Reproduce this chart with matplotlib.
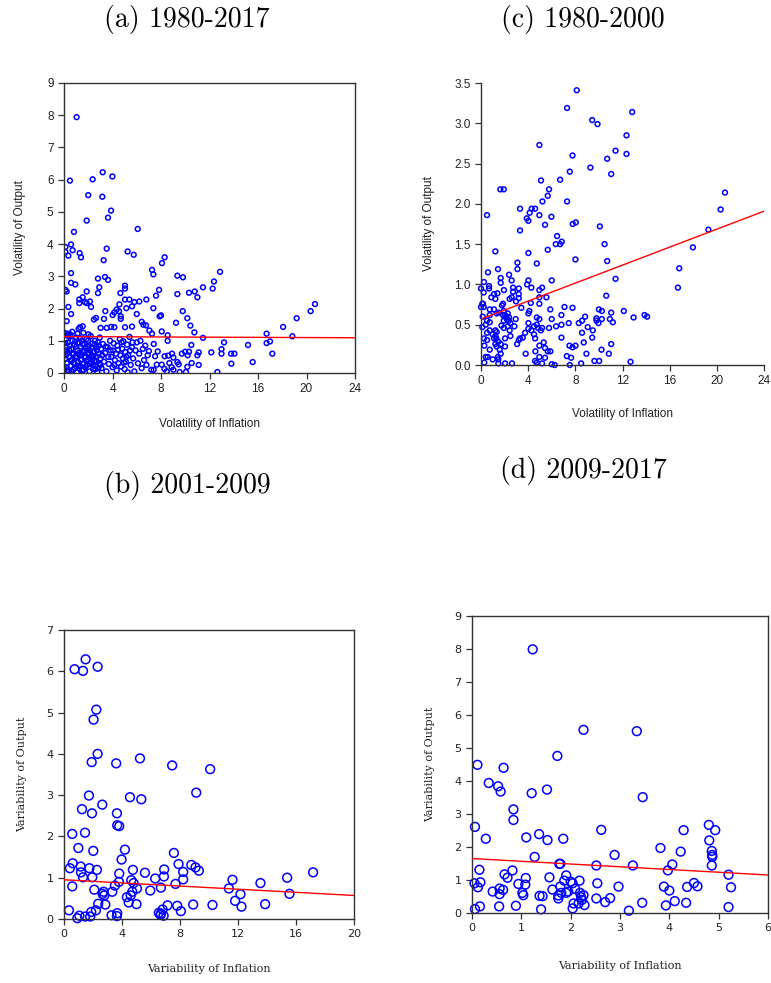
import numpy as np
import matplotlib
matplotlib.use("Agg")
import matplotlib.pyplot as plt

# ---------------- Panel (a) 1980-2017 ----------------
a_x_sparse = [1.04, 0.49, 2.36, 3.19, 3.99, 2.0, 3.16, 3.88, 3.63, 1.87, 6.08, 0.82, 0.11, 0.11, 0.58,
              0.71, 0.36, 1.29, 1.40, 3.52, 3.27, 5.25, 5.75, 8.30, 8.08, 7.26, 7.37, 9.35, 9.81, 12.87,
              12.37, 12.26, 0.58, 0.58, 0.93, 3.38, 3.63, 2.80, 2.91, 2.80, 5.03, 5.03, 4.65, 7.84, 7.59,
              9.35, 10.31, 10.78, 11.46, 11.0, 0.11, 0.22, 1.87, 1.54, 1.26, 1.26, 1.73, 2.14, 2.23, 0.36,
              1.87, 5.03, 5.39, 5.80, 5.61, 6.21, 6.79, 4.57, 5.14, 7.37, 9.79, 3.41, 4.34, 4.15, 4.01,
              4.54, 4.68, 4.68, 3.30, 2.64, 2.47, 6.00, 7.89, 8.0, 10.17, 9.24, 19.19, 20.34, 20.70, 0.22,
              0.58, 1.54, 1.21, 1.32, 5.61, 6.41, 6.54, 6.76, 3.52, 4.15, 3.88, 3.02, 5.03, 7.04, 7.26,
              8.06, 10.42, 10.75, 11.46, 18.07, 18.83, 16.71, 16.99, 16.71, 17.18, 15.18, 15.56, 13.2,
              12.99, 12.99, 12.15, 13.78, 14.05, 13.80, 12.65, 11.11, 11.0, 11.11, 10.50, 9.99, 10.31,
              9.72, 10.2, 10.53, 10.17, 10.06, 9.54, 9.35, 9.46, 8.91, 9.02, 8.60, 8.30, 8.55, 8.55, 7.73,
              7.51, 7.65, 7.4, 8.06, 8.28, 8.47, 8.69, 8.88, 9.02]
a_y_sparse = [7.94, 5.97, 6.01, 6.23, 6.10, 5.52, 5.47, 5.04, 4.82, 4.73, 4.47, 4.38, 3.91, 3.76, 3.99,
              3.81, 3.64, 3.72, 3.59, 3.86, 3.50, 3.77, 3.67, 3.59, 3.41, 3.20, 3.06, 3.02, 2.97, 3.14,
              2.84, 2.62, 3.10, 2.80, 2.75, 2.98, 2.89, 2.93, 2.66, 2.48, 2.71, 2.62, 2.48, 2.58, 2.40,
              2.45, 2.49, 2.53, 2.66, 2.35, 2.58, 2.53, 2.53, 2.35, 2.28, 2.17, 2.20, 2.22, 2.05, 2.05,
              2.17, 2.28, 2.28, 2.20, 2.07, 2.22, 2.28, 2.13, 2.01, 2.01, 1.92, 1.92, 1.97, 1.88, 1.80,
              1.92, 1.76, 1.68, 1.68, 1.71, 1.66, 1.83, 1.76, 1.79, 1.70, 1.56, 1.70, 1.92, 2.14, 1.61,
              1.83, 1.45, 1.37, 1.42, 1.44, 1.59, 1.50, 1.48, 1.40, 1.42, 1.43, 1.40, 1.42, 1.32, 1.22,
              1.29, 1.47, 1.26, 1.09, 1.43, 1.14, 1.22, 0.98, 0.93, 0.60, 0.87, 0.34, 0.95,
              0.74, 0.60, 0.64, 0.60, 0.60, 0.29, 0.03, 0.64, 0.55, 0.25, 0.87, 0.66, 0.66,
              0.60, 0.55, 0.31, 0.19, 0.03, 0.03, 0.34, 0.27, 0.60, 0.48, 0.54, 0.52, 1.0, 1.17, 0.67,
              0.52, 0.26, 0.10, 0.26, 0.13, 0.05, 0.31, 0.18, 0.10]
a_x_dense = [0.05, 0.1, 0.15, 0.2, 0.25, 0.3, 0.35, 0.4, 0.45, 0.5, 0.55, 0.6, 0.65, 0.7, 0.75, 0.8, 0.85,
             0.9, 0.95, 1.0, 1.05, 1.1, 1.15, 1.2, 1.25, 1.3, 1.35, 1.4, 1.45, 1.5, 1.55, 1.6, 1.65, 1.7,
             1.75, 1.8, 1.85, 1.9, 1.95, 2.0, 2.05, 2.1, 2.15, 2.2, 2.25, 2.3, 2.35, 2.4, 2.45, 2.5, 2.55,
             2.6, 2.65, 2.7, 2.75, 2.8, 2.85, 2.9, 2.95, 3.0, 3.05, 3.1, 3.2, 3.3, 3.4, 3.5, 3.6, 3.7, 3.8,
             3.9, 4.0, 4.05, 4.1, 4.2, 4.3, 4.35, 4.4, 4.5, 4.6, 4.65, 4.7, 4.8, 4.85, 4.9, 5.0, 5.05, 5.1,
             5.2, 5.25, 5.3, 5.4, 5.5, 5.6, 5.7, 5.8, 5.9, 6.0, 6.1, 6.2, 6.3, 6.4, 6.5, 6.6, 6.7, 6.8,
             6.9, 7.0, 7.2, 7.4, 0.12, 0.22, 0.33, 0.48, 0.62, 0.78, 0.92, 1.08, 1.22, 1.38, 1.52, 1.68,
             1.82, 1.98, 2.12, 2.28, 2.42, 2.58, 2.72, 2.88, 3.02, 3.15, 3.45, 3.65, 3.85, 4.15, 4.45, 4.75,
             4.95, 5.15, 5.45, 5.65, 0.08, 0.18, 0.28, 0.42, 0.58, 0.72, 0.88, 1.02, 1.18, 1.32, 1.48, 1.62,
             1.78, 1.92, 2.08, 2.22, 2.38, 2.52, 2.68, 2.82, 0.02, 0.04, 0.3, 0.52, 0.68, 1.12, 1.6, 2.02]
a_y_dense = [0.12, 0.45, 0.8, 1.05, 0.3, 0.62, 0.95, 0.05, 0.5, 1.2, 0.22, 0.75, 0.4, 1.0, 0.1, 0.6, 0.88,
             0.28, 0.52, 1.1, 0.02, 0.7, 0.35, 0.95, 0.15, 0.55, 0.82, 0.4, 1.0, 0.08, 0.65, 0.3, 0.9, 0.48,
             0.18, 0.78, 1.05, 0.25, 0.6, 0.42, 0.85, 0.05, 0.7, 1.15, 0.32, 0.55, 0.92, 0.12, 0.66, 0.38,
             1.0, 0.22, 0.8, 0.5, 0.02, 0.95, 0.6, 0.3, 1.1, 0.45, 0.75, 0.15, 0.9, 0.35, 0.62, 0.05, 0.8,
             0.28, 1.0, 0.5, 0.18, 0.7, 0.92, 0.4, 0.6, 0.08, 0.85, 0.3, 1.05, 0.55, 0.2, 0.75, 0.45, 0.98,
             0.12, 0.65, 0.35, 0.88, 0.02, 0.55, 1.12, 0.25, 0.8, 0.45, 0.05, 0.7, 0.95, 0.3, 0.6, 1.0,
             0.15, 0.75, 0.4, 0.85, 0.25, 0.55, 0.68, 0.1, 0.9, 0.7, 0.18, 1.15, 0.85, 0.05, 0.32, 0.98,
             0.48, 0.62, 0.2, 0.9, 0.68, 0.38, 1.0, 0.28, 0.78, 0.48, 0.12, 0.7, 0.85, 0.25, 0.55, 0.82,
             0.5, 0.7, 0.25, 0.72, 0.95, 0.32, 0.5, 0.7, 0.95, 0.92, 0.55, 0.08, 0.72, 0.38, 0.58, 0.15,
             0.82, 0.22, 1.08, 0.58, 0.1, 0.5, 0.82, 0.62, 0.5, 0.25, 0.88, 0.35, 0.15, 1.25, 1.18, 1.22,
             1.15, 1.28, 1.22, 1.25, 1.2]
a_x = a_x_sparse + a_x_dense
a_y = a_y_sparse + a_y_dense
a_fit = (1.13, -0.0015)  # intercept, slope

# ---------------- Panel (c) 1980-2000 ----------------
c_x = [8.12, 7.30, 12.82, 9.43, 9.88, 12.34, 12.34, 11.41, 10.70, 11.04, 9.28, 7.76, 7.53, 6.71, 4.95,
       5.09, 5.77, 5.66, 5.21, 7.30, 3.31, 4.30, 4.59, 4.13, 3.88, 4.02, 4.95, 5.97, 5.43, 7.78, 8.04,
       10.08, 20.32, 20.69, 19.28, 17.97, 16.81, 16.70, 3.31, 6.45, 6.34, 6.71, 6.85, 5.66, 10.48, 10.70,
       8.01, 4.02, 4.73, 3.09, 3.09, 1.22, 0.51, 1.64, 1.93, 1.44, 0.59, 11.41, 10.62, 6.0, 4.02, 2.60,
       2.38, 0.25, 1.67, 1.67, 0.68, 0.68, 1.95, 2.72, 2.72, 3.20, 3.91, 4.27, 5.18, 4.95, 5.55, 4.95,
       4.95, 3.20, 3.20, 2.43, 2.60, 2.97, 3.42, 4.22, 4.10, 0.0, 0.23, 0.11, 0.0, 0.17, 0.23, 0.88, 1.10,
       1.39, 1.22, 1.78, 1.87, 0.74, 1.10, 0.74, 1.33, 1.50, 1.93, 2.04, 1.87, 2.27, 2.15, 2.38, 2.18,
       2.35, 2.49, 2.27, 1.93, 1.93, 1.73, 0.14, 0.51, 0.74, 0.40, 0.11, 0.74, 0.51, 0.99, 1.22, 1.33,
       1.22, 1.30, 1.10, 1.47, 1.22, 1.33, 2.04, 2.49, 2.04, 1.67, 1.59, 1.67, 1.44, 1.47, 0.74, 0.99,
       0.57, 0.40, 0.28, 0.28, 0.25, 0.51, 2.04, 1.47, 2.63, 2.94, 2.83, 2.43, 4.02, 4.02, 4.02, 4.27,
       4.50, 4.50, 4.73, 4.95, 4.84, 5.07, 5.18, 4.73, 4.59, 3.74, 3.54, 3.31, 3.20, 3.06, 3.79, 4.61,
       4.95, 5.32, 5.43, 5.43, 4.95, 4.59, 4.73, 5.18, 5.66, 5.88, 6.0, 6.25, 6.37, 5.77, 5.88, 6.0,
       6.82, 6.82, 7.08, 7.44, 7.76, 6.82, 7.50, 7.76, 8.01, 7.28, 7.64, 7.53, 8.49, 8.29, 8.57, 8.83,
       9.05, 9.48, 8.57, 9.43, 8.71, 8.94, 9.79, 9.79, 9.96, 10.0, 10.25, 10.25, 10.93, 11.04, 11.18,
       12.11, 12.94, 13.87, 14.09, 9.62, 10.02, 10.84, 10.22, 11.04, 12.68]
c_y = [3.41, 3.19, 3.14, 3.04, 2.99, 2.85, 2.62, 2.66, 2.56, 2.37, 2.45, 2.60, 2.40, 2.30, 2.73, 2.29,
       2.18, 2.10, 2.03, 2.03, 1.94, 1.94, 1.94, 1.89, 1.82, 1.79, 1.86, 1.84, 1.74, 1.75, 1.77, 1.72,
       1.93, 2.14, 1.68, 1.46, 1.20, 0.96, 1.67, 1.60, 1.50, 1.50, 1.53, 1.43, 1.50, 1.29, 1.31, 1.39,
       1.26, 1.27, 1.19, 1.41, 1.86, 2.18, 2.18, 1.19, 1.15, 1.07, 0.86, 1.05, 1.05, 1.05, 1.12, 1.03,
       1.08, 1.02, 0.98, 0.95, 0.93, 0.96, 0.91, 0.95, 1.0, 0.96, 0.96, 0.93, 0.84, 0.84, 0.76, 0.88,
       0.83, 0.82, 0.84, 0.79, 0.71, 0.77, 0.67, 0.95, 0.90, 0.76, 0.72, 0.76, 0.72, 0.84, 0.88, 0.89,
       0.82, 0.74, 0.76, 0.69, 0.69, 0.62, 0.64, 0.65, 0.67, 0.62, 0.62, 0.64, 0.60, 0.59, 0.57, 0.55,
       0.52, 0.48, 0.55, 0.46, 0.49, 0.60, 0.55, 0.53, 0.50, 0.47, 0.43, 0.40, 0.38, 0.43, 0.41, 0.36,
       0.33, 0.33, 0.29, 0.26, 0.23, 0.33, 0.36, 0.23, 0.26, 0.19, 0.14, 0.10, 0.07, 0.19, 0.07, 0.10,
       0.10, 0.03, 0.24, 0.33, 0.31, 0.02, 0.02, 0.02, 0.57, 0.48, 0.43, 0.64, 0.52, 0.45, 0.43, 0.38,
       0.48, 0.59, 0.57, 0.46, 0.43, 0.46, 0.50, 0.33, 0.40, 0.34, 0.33, 0.31, 0.26, 0.14, 0.17, 0.24,
       0.28, 0.21, 0.09, 0.10, 0.05, 0.03, 0.02, 0.17, 0.17, 0.01, 0.0, 0.48, 0.46, 0.69, 0.57, 0.50,
       0.62, 0.72, 0.52, 0.71, 0.34, 0.24, 0.22, 0.24, 0.11, 0.09, 0.0, 0.02, 0.52, 0.55, 0.60, 0.47,
       0.43, 0.40, 0.34, 0.28, 0.14, 0.58, 0.55, 0.52, 0.69, 0.67, 0.57, 0.57, 0.65, 0.53, 0.67, 0.59,
       0.62, 0.60, 0.05, 0.05, 0.14, 0.19, 0.26, 0.04]
c_fit = (0.57, 0.0558)

# ---------------- Panel (b) 2001-2009 ----------------
b_x = [1.49, 0.73, 1.31, 2.32, 2.23, 2.04, 2.32, 1.91, 3.60, 5.24, 7.46, 10.08, 9.12, 4.55, 5.33, 1.72,
       2.64, 1.24, 1.93, 3.65, 3.67, 3.81, 0.57, 1.45, 0.99, 2.02, 4.20, 3.97, 7.58, 7.90, 8.78, 9.07,
       9.30, 0.60, 0.41, 1.15, 1.75, 2.27, 1.17, 1.31, 1.95, 0.57, 2.09, 4.75, 3.81, 5.58, 6.91, 6.89,
       6.29, 8.22, 8.22, 7.69, 6.68, 5.95, 4.64, 4.80, 3.79, 3.51, 5.03, 4.71, 3.33, 2.66, 2.78, 2.73,
       4.60, 4.34, 4.46, 5.0, 2.36, 2.85, 2.2, 1.88, 0.34, 1.06, 0.92, 1.45, 1.81, 3.28, 3.67, 3.65,
       6.54, 6.68, 6.66, 6.80, 6.87, 7.14, 7.81, 8.06, 8.91, 10.24, 11.37, 11.62, 11.80, 12.17, 12.24,
       13.55, 13.87, 15.39, 15.55, 17.18]
b_y = [6.29, 6.05, 6.01, 6.11, 5.07, 4.83, 4.0, 3.80, 3.77, 3.89, 3.72, 3.63, 3.06, 2.95, 2.90, 2.99,
       2.77, 2.66, 2.56, 2.56, 2.27, 2.25, 2.06, 2.09, 1.72, 1.65, 1.68, 1.44, 1.60, 1.33, 1.31, 1.25,
       1.17, 1.35, 1.23, 1.27, 1.23, 1.19, 1.13, 1.01, 1.01, 0.79, 0.71, 1.19, 1.10, 1.12, 1.20, 1.03,
       0.98, 1.14, 0.96, 0.85, 0.76, 0.69, 0.94, 0.87, 0.90, 0.81, 0.74, 0.66, 0.66, 0.61, 0.57, 0.66,
       0.57, 0.53, 0.40, 0.36, 0.37, 0.35, 0.21, 0.17, 0.21, 0.08, 0.02, 0.06, 0.06, 0.09, 0.14, 0.07,
       0.15, 0.13, 0.10, 0.23, 0.08, 0.33, 0.32, 0.19, 0.35, 0.34, 0.74, 0.95, 0.44, 0.60, 0.30, 0.87,
       0.36, 1.0, 0.61, 1.13]
b_fit = (0.95, -0.019)

# ---------------- Panel (d) 2009-2017 ----------------
d_x = [1.23, 2.26, 3.34, 1.73, 0.11, 0.64, 0.34, 0.53, 0.58, 1.21, 1.52, 3.46, 0.84, 0.84, 0.06, 0.28,
       1.10, 1.36, 1.53, 1.85, 2.62, 4.29, 4.80, 4.93, 4.81, 3.82, 4.23, 4.86, 4.87, 4.87, 2.89, 1.27,
       1.77, 1.79, 2.52, 3.26, 4.06, 4.86, 3.97, 0.15, 0.82, 0.66, 0.72, 1.09, 1.57, 1.91, 5.20, 0.05,
       0.17, 0.94, 1.08, 0.12, 0.42, 0.56, 0.63, 0.56, 1.02, 1.04, 1.37, 1.43, 1.63, 1.75, 1.75, 1.79,
       1.81, 1.87, 1.91, 1.95, 2.0, 2.04, 2.09, 2.18, 2.19, 2.21, 2.26, 2.23, 2.28, 2.16, 2.06, 2.04,
       2.54, 2.52, 2.70, 2.80, 2.97, 3.18, 3.45, 3.89, 4.0, 3.93, 4.11, 4.34, 4.36, 4.50, 4.57, 5.25,
       5.20, 0.89, 0.55, 0.16, 0.06, 1.40]
d_y = [7.99, 5.55, 5.51, 4.76, 4.49, 4.40, 3.94, 3.84, 3.68, 3.63, 3.74, 3.51, 3.14, 2.82, 2.61, 2.25,
       2.29, 2.39, 2.21, 2.25, 2.52, 2.51, 2.67, 2.51, 2.20, 1.97, 1.86, 1.88, 1.76, 1.70, 1.76, 1.70,
       1.49, 1.49, 1.44, 1.44, 1.47, 1.44, 1.29, 1.31, 1.29, 1.17, 1.07, 1.06, 1.08, 1.14, 1.16, 0.90,
       0.93, 0.88, 0.86, 0.78, 0.65, 0.74, 0.70, 0.57, 0.61, 0.54, 0.52, 0.51, 0.71, 0.44, 0.53, 0.80,
       0.61, 0.98, 0.61, 0.65, 0.95, 0.90, 0.73, 0.98, 0.61, 0.48, 0.54, 0.40, 0.24, 0.29, 0.29, 0.14,
       0.90, 0.44, 0.33, 0.45, 0.80, 0.07, 0.31, 0.80, 0.68, 0.23, 0.36, 0.31, 0.79, 0.91, 0.81, 0.78,
       0.18, 0.22, 0.20, 0.20, 0.12, 0.11]
d_fit = (1.65, -0.083)

# ---------------- Drawing ----------------
W, H = 771, 983
fig = plt.figure(figsize=(W / 100, H / 100), dpi=100)


def rect(l, t, r, b):
    return [l / W, 1 - b / H, (r - l) / W, (b - t) / H]


title_font = dict(family="cmr10", size=20)
axcol = "#333333"


def style(ax, font, size, box=True):
    for s in ["top", "right"]:
        ax.spines[s].set_visible(box)
    for s in ax.spines.values():
        s.set_color(axcol)
        s.set_linewidth(1.0)
    ax.tick_params(direction="out", length=4, width=0.9, color=axcol, labelcolor="#222222",
                   labelsize=size)
    for lab in ax.get_xticklabels() + ax.get_yticklabels():
        lab.set_family(font)


def fitline(ax, fit, x0, x1):
    xs = np.array([x0, x1])
    ax.plot(xs, fit[0] + fit[1] * xs, color="red", lw=1.0, zorder=3)


# (a)
ax = fig.add_axes(rect(64, 83, 355, 373))
ax.scatter(a_x, a_y, s=12, facecolors="none", edgecolors="blue", linewidths=1.1, zorder=2)
fitline(ax, a_fit, 0, 24)
ax.set_xlim(0, 24); ax.set_ylim(0, 9)
ax.set_xticks(range(0, 25, 4)); ax.set_yticks(range(0, 10))
style(ax, "Liberation Sans", 8.5, box=True)
ax.set_xlabel("Volatility of Inflation", family="Liberation Sans", fontsize=8.5, color="#222222", labelpad=16)
ax.set_ylabel("Volatility of Output", family="Liberation Sans", fontsize=8.5, color="#222222", labelpad=15)
fig.text(187 / W, 1 - 20 / H, "(a) 1980-2017", ha="center", va="center", **title_font)

# (c)
ax = fig.add_axes(rect(481, 83, 764, 365))
ax.scatter(c_x, c_y, s=12, facecolors="none", edgecolors="blue", linewidths=1.1, zorder=2, clip_on=False)
fitline(ax, c_fit, 0, 24)
ax.set_xlim(0, 24); ax.set_ylim(0, 3.5)
ax.set_xticks(range(0, 25, 4)); ax.set_yticks(np.arange(0, 3.51, 0.5))
ax.set_yticklabels([f"{v:.1f}" for v in np.arange(0, 3.51, 0.5)])
style(ax, "Liberation Sans", 8.5, box=False)
ax.set_xlabel("Volatility of Inflation", family="Liberation Sans", fontsize=8.5, color="#222222", labelpad=15)
ax.set_ylabel("Volatility of Output", family="Liberation Sans", fontsize=8.5, color="#222222", labelpad=14)
fig.text(583 / W, 1 - 20 / H, "(c) 1980-2000", ha="center", va="center", **title_font)

# (b)
ax = fig.add_axes(rect(64, 630, 354, 919))
ax.scatter(b_x, b_y, s=40, facecolors="none", edgecolors="blue", linewidths=1.1, zorder=2, clip_on=False)
fitline(ax, b_fit, 0, 20)
ax.set_xlim(0, 20); ax.set_ylim(0, 7)
ax.set_xticks(range(0, 21, 4)); ax.set_yticks(range(0, 8))
style(ax, "DejaVu Sans", 8, box=True)
ax.set_xlabel("Variability of Inflation", family="DejaVu Serif", fontsize=8, color="#222222", labelpad=18)
ax.set_ylabel("Variability of Output", family="DejaVu Serif", fontsize=8, color="#222222", labelpad=14)
fig.text(187 / W, 1 - 485 / H, "(b) 2001-2009", ha="center", va="center", **title_font)

# (d)
ax = fig.add_axes(rect(472, 616, 768, 913))
ax.scatter(d_x, d_y, s=40, facecolors="none", edgecolors="blue", linewidths=1.1, zorder=2, clip_on=False)
fitline(ax, d_fit, 0, 6)
ax.set_xlim(0, 6); ax.set_ylim(0, 9)
ax.set_xticks(range(0, 7)); ax.set_yticks(range(0, 10))
style(ax, "DejaVu Sans", 8, box=True)
ax.set_xlabel("Variability of Inflation", family="DejaVu Serif", fontsize=8, color="#222222", labelpad=20)
ax.set_ylabel("Variability of Output", family="DejaVu Serif", fontsize=8, color="#222222", labelpad=14)
fig.text(583 / W, 1 - 470 / H, "(d) 2009-2017", ha="center", va="center", **title_font)

fig.savefig("out.png", dpi=100)
